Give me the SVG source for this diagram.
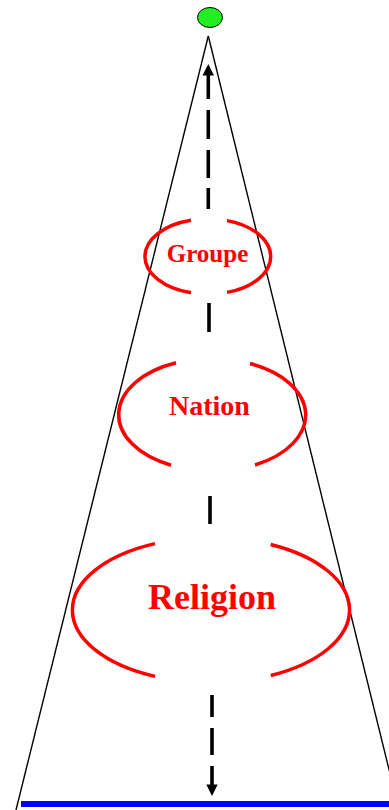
<svg xmlns="http://www.w3.org/2000/svg" width="389" height="810" viewBox="0 0 389 810">
<style>
.arc{fill:none;stroke:#ff0000;stroke-width:3.5}
.lbl{font-family:"Liberation Serif","Times New Roman",serif;font-weight:bold;fill:#ff0000;text-anchor:middle}
.side{stroke:#000;stroke-width:1.4;fill:none}
.dash{stroke:#000;stroke-width:3.6;fill:none}
.head{fill:#000}
</style>
<rect width="389" height="810" fill="#fff"/>
<g id="pyramid">
<line class="side" x1="208.3" y1="36" x2="16" y2="810"/>
<line class="side" x1="208.3" y1="36" x2="399" y2="810"/>
</g>
<g id="base">
<rect x="21" y="801" width="370" height="6" fill="#0000ff"/>
</g>
<g id="apex">
<ellipse cx="210" cy="17.5" rx="12.5" ry="10" fill="#22ee22" stroke="#000" stroke-width="1"/>
</g>
<g id="connectors">
<polygon class="head" points="208.3,64 202.5,75.5 214,75.5"/>
<path class="dash" d="M208.3,75 V99 M208.3,110 V139 M208.3,150 V178 M208.3,188 V209"/>
<path class="dash" d="M209,303 V332"/>
<path class="dash" d="M210,496 V524"/>
<path class="dash" d="M212,695 V717 M212,728 V755 M212,766 V786"/>
<polygon class="head" points="212,796 206.3,784.5 217.7,784.5"/>
</g>
<g id="groupe">
<path class="arc" d="M191,220.2 A61.5,37.5 0 0,0 191,292.8"/>
<path class="arc" d="M227,220.6 A61.5,37.5 0 0,1 227,292.4"/>
<text class="lbl" x="207.5" y="262" font-size="25">Groupe</text>
</g>
<g id="nation">
<path class="arc" d="M176,362.8 A92,56 0 0,0 171,465.2"/>
<path class="arc" d="M250,363.5 A92,56 0 0,1 255,465"/>
<text class="lbl" x="209.5" y="415" font-size="28">Nation</text>
</g>
<g id="religion">
<path class="arc" d="M155,543.6 A138,72.5 0 0,0 155,676.4"/>
<path class="arc" d="M270.7,544.5 A138,72.5 0 0,1 270.7,675.5"/>
<text class="lbl" x="212" y="609" font-size="36">Religion</text>
</g>
</svg>
